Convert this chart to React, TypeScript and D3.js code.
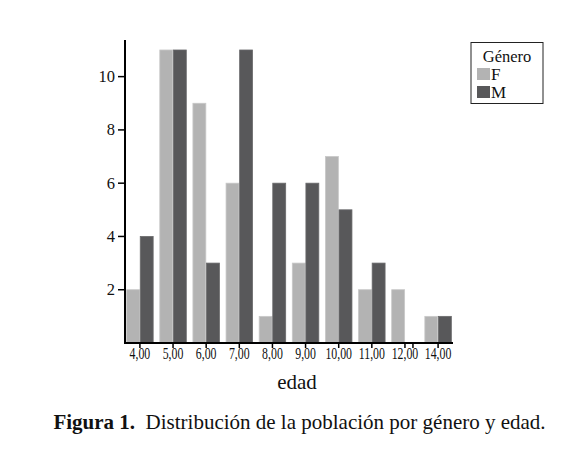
import React from "react";
import * as d3 from "d3";

const categories = ["4,00", "5,00", "6,00", "7,00", "8,00", "9,00", "10,00", "11,00", "12,00", "14,00"];
const femaleValues = [2, 11, 9, 6, 1, 3, 7, 2, 2, 1];
const maleValues = [4, 11, 3, 11, 6, 6, 5, 3, 0, 1];
const yTicks = [2, 4, 6, 8, 10];
const seriesNames = ["F", "M"];
const seriesColors = ["#b3b3b3", "#58585a"];
const seriesStrokes = ["#c8c8c8", "#6a6a6c"];

const W = 580;
const H = 463;
const left = 125;
const right = 453;
const top = 40;
const bottom = 343;
const FONT = "'Liberation Serif', 'DejaVu Serif', serif";

export default function App() {
  const x = d3.scaleBand<string>().domain(categories).range([left, right]).paddingInner(0.2).paddingOuter(0.05);
  const sub = d3.scaleBand<string>().domain(seriesNames).range([0, x.bandwidth()]).paddingInner(0.05);
  const y = d3.scaleLinear().domain([0, 11.375]).range([bottom, top]);
  const series = [femaleValues, maleValues];

  const lastCat = categories[categories.length - 2];
  const breakX = (x(lastCat) ?? 0) + x.bandwidth() / 2 + 8;

  return (
    <svg width={W} height={H} style={{ position: "absolute", left: 0, top: 0, background: "#fff" }} fontFamily={FONT}>
      <rect x={0} y={0} width={W} height={H} fill="#fff" />
      {series.map((vals, si) =>
        vals.map((v, i) =>
          v > 0 ? (
            <rect
              key={`${si}-${i}`}
              x={(x(categories[i]) ?? 0) + (sub(seriesNames[si]) ?? 0)}
              y={y(v)}
              width={sub.bandwidth()}
              height={y(0) - y(v)}
              fill={seriesColors[si]}
              stroke={seriesStrokes[si]}
              strokeWidth={0.8}
            />
          ) : null
        )
      )}
      {/* y axis */}
      <line x1={left} x2={left} y1={top} y2={bottom + 1} stroke="#000" strokeWidth={2} />
      {yTicks.map((t) => (
        <g key={t}>
          <line x1={left - 7} x2={left} y1={y(t)} y2={y(t)} stroke="#000" strokeWidth={1.5} />
          <text x={left - 10} y={y(t)} dy="0.33em" textAnchor="end" fontSize={16.5} fill="#111">
            {t}
          </text>
        </g>
      ))}
      {/* x axis */}
      <line x1={left - 1} x2={right} y1={bottom} y2={bottom} stroke="#000" strokeWidth={2} />
      {categories.map((c) => {
        const cx = (x(c) ?? 0) + x.bandwidth() / 2;
        return (
          <g key={c}>
            <line x1={cx} x2={cx} y1={bottom} y2={bottom + 5} stroke="#000" strokeWidth={1.5} />
            <text transform={`translate(${cx},359) scale(0.74,1)`} textAnchor="middle" fontSize={16} fill="#111">
              {c}
            </text>
          </g>
        );
      })}
      <line x1={breakX} x2={breakX} y1={bottom} y2={bottom + 5} stroke="#000" strokeWidth={1.5} />
      <text x={(left + right) / 2 + 8} y={389} textAnchor="middle" fontSize={21} fill="#111">
        edad
      </text>
      {/* legend */}
      <rect x={471} y={42.5} width={72} height={61} fill="#fff" stroke="#222" strokeWidth={1} />
      <text x={507} y={62} textAnchor="middle" fontSize={16.5} fill="#111">
        Género
      </text>
      {seriesNames.map((n, i) => (
        <g key={n}>
          <rect x={477} y={68 + i * 18} width={13} height={12} fill={seriesColors[i]} />
          <text x={491} y={80 + i * 18} fontSize={17} fill="#111">
            {n}
          </text>
        </g>
      ))}
      {/* caption */}
      <text x={299.5} y={429} textAnchor="middle" fontSize={21} fill="#111">
        <tspan fontWeight="bold">Figura 1.</tspan>
        <tspan>{"\u00a0\u00a0Distribución de la población por género y edad."}</tspan>
      </text>
    </svg>
  );
}
